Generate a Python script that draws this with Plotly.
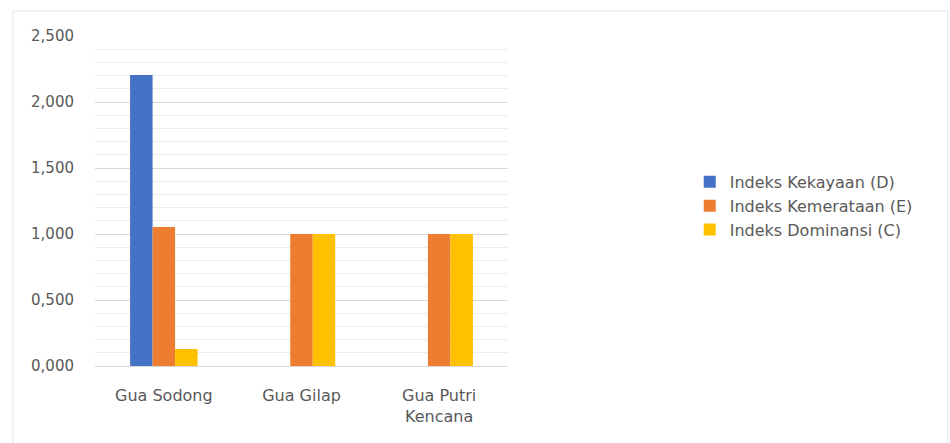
import plotly.graph_objects as go

categories = ["Gua Sodong", "Gua Gilap", "Gua Putri<br>Kencana"]
series_names = ["Indeks Kekayaan (D)", "Indeks Kemerataan (E)", "Indeks Dominansi (C)"]
kekayaan = [2.205, 0.0, 0.0]
kemerataan = [1.053, 1.000, 1.000]
dominansi = [0.129, 1.000, 1.000]
colors = ["#4472C4", "#ED7D31", "#FFC000"]
tick_vals = [0, 0.5, 1.0, 1.5, 2.0, 2.5]
tick_text = ["0,000", "0,500", "1,000", "1,500", "2,000", "2,500"]

fig = go.Figure()
for name, vals, c in zip(series_names, [kekayaan, kemerataan, dominansi], colors):
    fig.add_trace(go.Bar(x=categories, y=vals, name=name, marker=dict(color=c, line=dict(width=0))))

font = "'DejaVu Sans', sans-serif"
fig.update_layout(
    width=950, height=443,
    margin=dict(l=95, r=442, t=36, b=77),
    paper_bgcolor="white", plot_bgcolor="white",
    barmode="group", bargap=0.51, bargroupgap=0,
    font=dict(family=font, size=15, color="#595959"),
    legend=dict(x=1.44, y=0.485, xanchor="left", yanchor="middle",
                font=dict(size=16, color="#595959"), tracegroupgap=0,
                itemwidth=30),
    showlegend=True,
    xaxis=dict(showgrid=False, showline=True, linecolor="#d9d9d9", linewidth=1,
               ticks="", tickfont=dict(size=16, color="#595959"), ticklabelstandoff=15),
    yaxis=dict(range=[0, 2.5], tickvals=tick_vals, ticktext=tick_text,
               showgrid=True, gridcolor="#d9d9d9", gridwidth=1,
               minor=dict(dtick=0.1, showgrid=True, gridcolor="#ececec", gridwidth=1),
               zeroline=False, showline=False, ticks="",
               tickfont=dict(size=15, color="#595959"), ticklabelstandoff=20),
    shapes=[dict(type="rect", xref="paper", yref="paper",
                 x0=(13 - 95) / 413, x1=(948 - 95) / 413,
                 y0=-(450 - 366) / 330, y1=(366 - 11) / 330,
                 line=dict(color="#e6e6e6", width=1), fillcolor="rgba(0,0,0,0)", layer="below")],
)
fig.write_html("out.html")
